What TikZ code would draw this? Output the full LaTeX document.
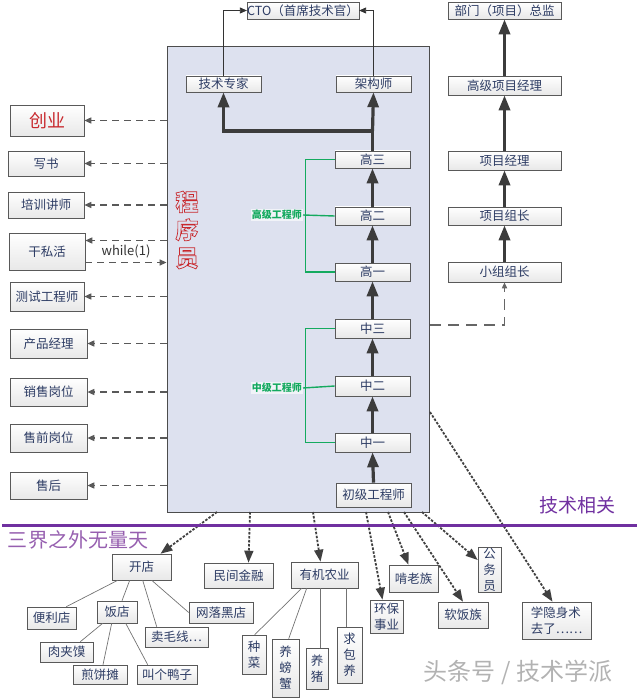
\documentclass[tikz,border=0pt]{standalone}
\usepackage{fontspec}
\setmainfont{Noto Sans CJK SC}
\usetikzlibrary{arrows.meta,shadows,calc}
\definecolor{txt}{RGB}{45,60,100}
\definecolor{mainfill}{RGB}{221,225,239}
\definecolor{arr}{RGB}{60,60,60}
\definecolor{grn}{RGB}{20,170,95}
\definecolor{purp}{RGB}{112,48,160}
\definecolor{lpurp}{RGB}{150,95,175}
\definecolor{redt}{RGB}{200,40,45}
\tikzset{
  box/.style={draw=black!65, line width=0.6pt, top color=white, bottom color=black!9,
    text=txt, inner sep=0pt, align=center, font=\fontsize{12.5}{16}\selectfont,
    drop shadow={shadow xshift=1.2pt, shadow yshift=-1.2pt, opacity=0.25, fill=black}},
  mainbox/.style={draw=black!70, line width=0.8pt, fill=mainfill, inner sep=0pt},
  ldash/.style={draw=black!65, line width=1.4pt, dash pattern=on 7pt off 5pt, -{Triangle[length=7pt,width=6pt]}},
  bdash/.style={draw=black!75, line width=1.8pt, dash pattern=on 2.5pt off 1.5pt, -{Triangle[length=12pt,width=9pt]}},
  rdash/.style={draw=black!60, line width=1.5pt, dash pattern=on 11pt off 7pt, -{Triangle[length=6pt,width=5pt]}},
  thinarr/.style={draw=black!80, line width=0.8pt, -{Triangle[length=7pt,width=6pt]}},
  tline/.style={draw=arr, line width=3.2pt},
  tarr/.style={draw=arr, line width=3.2pt, -{Triangle[length=15pt,width=11pt]}},
  gline/.style={draw=grn, line width=1.4pt},
  glabel/.style={text=grn, font=\fontsize{10}{12}\selectfont\bfseries, fill=white, fill opacity=0.6, text opacity=1, inner sep=1pt},
  leaf/.style={draw=black!55, line width=0.7pt},
}
\newcommand\Bx[7][]{\node[box,#1,minimum width={#4-#2},minimum height={#5-#3}] (#6) at ({(#2+#4)/2},{(#3+#5)/2}) {#7};}
\newcommand\hollowon{\special{pdf:literal direct 1 Tr 0.7 w}}
\newcommand\hollowoff{\special{pdf:literal direct 0 Tr 0.4 w}}
\begin{document}
\begin{tikzpicture}[x=1pt,y=-1pt]
\useasboundingbox (0,0) rectangle (640,700);
% main box
\node[mainbox, minimum width=262, minimum height=466] (prog) at (298,279) {};
\node[font=\fontsize{23}{28}\selectfont\bfseries, text=redt, align=center, inner sep=0pt] (cxy) at (187,230) {\hollowon 程\\序\\员\hollowoff};
% top
\Bx{250}{2}{356}{19}{cto}{CTO（首席技术官）}
\Bx{186}{76}{261}{92}{jszj}{技术专家}
\Bx{336}{76}{411}{92}{jgs}{架构师}
% chain
\Bx{335}{151}{410}{168}{g3}{高三}
\Bx{335}{207}{410}{225}{g2}{高二}
\Bx{335}{263}{410}{281}{g1}{高一}
\Bx{335}{319}{410}{338}{z3}{中三}
\Bx{335}{376}{410}{396}{z2}{中二}
\Bx{335}{433}{410}{452}{z1}{中一}
\Bx{336}{483}{411}{507}{cj}{初级工程师}
% right column
\Bx{448}{2}{561}{19}{zj}{部门（项目）总监}
\Bx{448}{76}{561}{95}{gxjl}{高级项目经理}
\Bx{448}{151}{561}{170}{xmjl}{项目经理}
\Bx{448}{207}{561}{225}{xmzz}{项目组长}
\Bx{448}{262}{561}{282}{xzzz}{小组组长}
% left column
\Bx[font=\fontsize{18}{20}\selectfont, text=redt]{10}{105}{84}{136}{cy}{创业}
\Bx{8}{151}{84}{176}{xs}{写书}
\Bx{8}{192}{84}{218}{pxjs}{培训讲师}
\Bx{9}{233}{85}{270}{gsh}{干私活}
\Bx{10}{282}{84}{311}{cs}{测试工程师}
\Bx{10}{329}{87}{358}{cpjl}{产品经理}
\Bx{10}{378}{87}{406}{xsgw}{销售岗位}
\Bx{10}{424}{87}{452}{sqgw}{售前岗位}
\Bx{10}{472}{87}{499}{sh}{售后}
% bottom
\Bx{112}{554}{171}{580}{kd}{开店}
\Bx{204}{563}{273}{588}{mjjr}{民间金融}
\Bx{291}{562}{358}{588}{yjny}{有机农业}
\Bx{27}{607}{76}{629}{bld}{便利店}
\Bx{97}{601}{137}{623}{fd}{饭店}
\Bx{189}{602}{253}{623}{wlhd}{网落黑店}
\Bx{145}{627}{208}{647}{mmx}{卖毛线…}
\Bx{40}{642}{93}{662}{rjm}{肉夹馍}
\Bx{73}{665}{127}{684}{jbt}{煎饼摊}
\Bx{137}{665}{197}{684}{jgyz}{叫个鸭子}
\Bx{242}{635}{266}{674}{zc}{种\\菜}
\Bx{272}{639}{299}{697}{ypx}{养\\螃\\蟹}
\Bx{306}{648}{328}{689}{yz}{养\\猪}
\Bx{337}{627}{362}{683}{qby}{求\\包\\养}
\Bx{370}{600}{403}{633}{hbsy}{环保\\事业}
\Bx{389}{565}{438}{592}{knz}{啃老族}
\Bx{438}{602}{488}{628}{rfz}{软饭族}
\Bx{478}{547}{501}{592}{gwy}{公\\务\\员}
\Bx[align=left]{522}{602}{591}{639}{xys}{学隐身术\\去了……}
% CTO connectors
\draw[thinarr] (jszj.north) |- (cto.west);
\draw[thinarr] (jgs.north) |- (cto.east);
% thick chain
\coordinate (jn) at (372.5,131);
\draw[tline] (g3.north) -- (jn);
\draw[tarr] (jn) -| (jszj.south);
\draw[tarr] (jn) -- (jgs.south);
\draw[tarr] (g2.north) -- (g3.south);
\draw[tarr] (g1.north) -- (g2.south);
\draw[tarr] (z3.north) -- (g1.south);
\draw[tarr] (z2.north) -- (z3.south);
\draw[tarr] (z1.north) -- (z2.south);
\draw[tarr] (cj.north) -- (z1.south);
\draw[tarr] (xzzz.north) -- (xmzz.south);
\draw[tarr] (xmzz.north) -- (xmjl.south);
\draw[tarr] (xmjl.north) -- (gxjl.south);
\draw[tarr] (gxjl.north) -- (zj.south);
% green brackets
\node[glabel, anchor=east] (lg) at (303,215) {高级工程师};
\node[glabel, anchor=east] (lz) at (303,388) {中级工程师};
\draw[gline] (g3.west) -- ++(-29,0) |- (g1.west);
\draw[gline] (g2.west) -- (lg.east);
\draw[gline] (z3.west) -- ++(-29,0) |- (z1.west);
\draw[gline] (z2.west) -- (lz.east);
% left dashed
\draw[ldash] (prog.west |- cy.east) -- (cy.east);
\draw[ldash] (prog.west |- xs.east) -- (xs.east);
\draw[ldash] (prog.west |- pxjs.east) -- (pxjs.east);
\coordinate (gs1) at ([yshift=11pt]gsh.east);
\coordinate (gs2) at ([yshift=-11pt]gsh.east);
\draw[ldash] (prog.west |- gs1) -- (gs1);
\draw[ldash] (gs2) -- (prog.west |- gs2);
\node[font=\fontsize{13}{15}\selectfont, text=black!80] (wh) at (126,251) {while(1)};
\draw[ldash] (prog.west |- cs.east) -- (cs.east);
\draw[ldash] (prog.west |- cpjl.east) -- (cpjl.east);
\draw[ldash] (prog.west |- xsgw.east) -- (xsgw.east);
\draw[ldash] (prog.west |- sqgw.east) -- (sqgw.east);
\draw[ldash] (prog.west |- sh.east) -- (sh.east);
% right dashed to 小组组长
\coordinate (rd) at (430,325);
\draw[rdash] (rd) -| (xzzz.south);
% bottom dotted arrows
\coordinate (b1) at (217,512);
\coordinate (b2) at (250,512);
\coordinate (b3) at (313,512);
\coordinate (b4) at (366,512);
\coordinate (b5) at (388,512);
\coordinate (b6) at (404,512);
\coordinate (b7) at (422,512);
\coordinate (b8) at (430,412);
\draw[bdash] (b1) -- (kd.35);
\draw[bdash] (b2) -- ([xshift=10pt]mjjr.north);
\draw[bdash] (b3) -- ([xshift=-4pt]yjny.north);
\draw[bdash] (b4) -- ([xshift=-4pt]hbsy.north);
\draw[bdash] (b5) -- ([xshift=-5pt]knz.north);
\draw[bdash] (b6) -- (rfz.north);
\draw[bdash] (b7) -- ([yshift=9.5pt]gwy.west);
\draw[bdash] (b8) -- ([xshift=-4pt]xys.north);
% tree lines
\draw[leaf] ([xshift=6pt]kd.south west) -- ([xshift=-10pt]bld.north east);
\draw[leaf] ([xshift=18pt]kd.south west) -- ([xshift=5pt]fd.north);
\draw[leaf] ([xshift=31pt]kd.south west) -- ([xshift=12pt]mmx.north west);
\draw[leaf] ([xshift=40pt]kd.south west) -- (wlhd.west);
\draw[leaf] ([xshift=6pt]fd.south west) -- ([xshift=-13pt]rjm.north east);
\draw[leaf] ([xshift=15pt]fd.south west) -- ([xshift=3pt]jbt.north);
\draw[leaf] ([xshift=29pt]fd.south west) -- ([xshift=11pt]jgyz.north west);
\draw[leaf] ([xshift=11pt]yjny.south west) -- ([xshift=13pt]zc.north west);
\draw[leaf] ([xshift=16pt]yjny.south west) -- ([xshift=17pt]ypx.north west);
\coordinate (y3) at ([xshift=30pt]yjny.south west);
\coordinate (y4) at ([xshift=56pt]yjny.south west);
\draw[leaf] (y3) -- (y3 |- yz.north);
\draw[leaf] (y4) -- (y4 |- qby.north);
% divider
\coordinate (d1) at (2,525);
\coordinate (d2) at (637,525);
\draw[draw=purp, line width=3pt] (d1) -- (d2);
\node[text=purp, font=\fontsize{19}{22}\selectfont] (jsxg) at (577,505) {技术相关};
\node[text=lpurp, font=\fontsize{20}{24}\selectfont] (sjzw) at (78,540) {三界之外无量天};
% watermark
\node[text=black!30, font=\fontsize{24}{28}\selectfont] (wm) at (518,672) {头条号 / 技术学派};
\end{tikzpicture}
\end{document}
